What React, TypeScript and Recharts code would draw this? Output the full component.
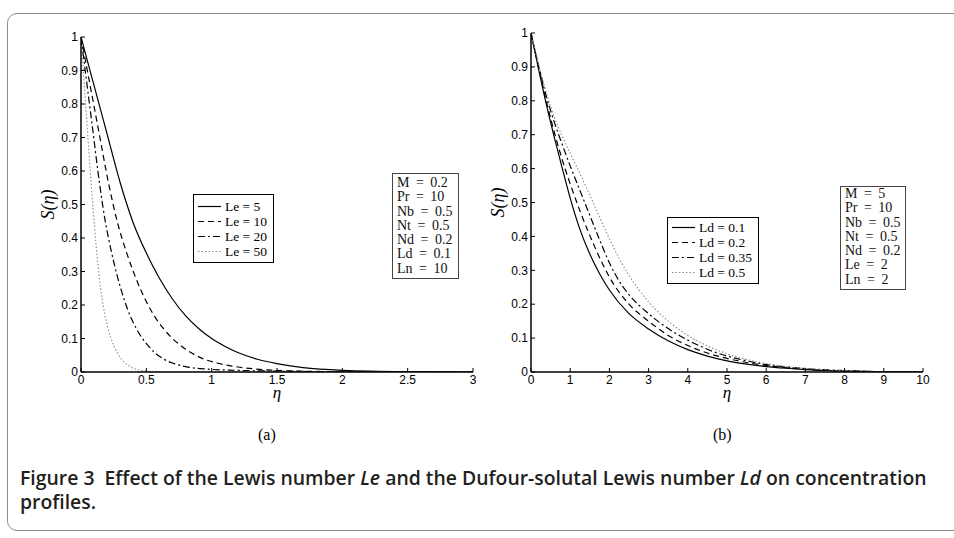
import React from 'react';
import { LineChart, Line, XAxis, YAxis, Legend } from 'recharts';

// ---------- Panel (a): Lewis number Le ----------
const leNames = ['Le = 5', 'Le = 10', 'Le = 20', 'Le = 50'];
const le5 = [[0, 1], [0.1, 0.855], [0.2, 0.71], [0.3, 0.565], [0.4, 0.445], [0.5, 0.355], [0.6, 0.28], [0.7, 0.218], [0.8, 0.168], [0.9, 0.13], [1.0, 0.1], [1.1, 0.077], [1.2, 0.058], [1.35, 0.038], [1.5, 0.025], [1.7, 0.013], [2.0, 0.005], [2.5, 0.001], [3, 0]];
const le10 = [[0, 1], [0.07, 0.855], [0.14, 0.71], [0.21, 0.565], [0.28, 0.445], [0.35, 0.355], [0.42, 0.28], [0.49, 0.218], [0.56, 0.168], [0.63, 0.13], [0.7, 0.1], [0.77, 0.077], [0.84, 0.058], [0.945, 0.038], [1.05, 0.026], [1.2, 0.015], [1.4, 0.007], [1.75, 0.002], [2.2, 0.0005], [3, 0]];
const le20 = [[0, 1], [0.047, 0.855], [0.094, 0.71], [0.141, 0.565], [0.188, 0.445], [0.235, 0.355], [0.282, 0.28], [0.329, 0.218], [0.376, 0.168], [0.423, 0.13], [0.47, 0.1], [0.517, 0.077], [0.564, 0.058], [0.635, 0.038], [0.705, 0.026], [0.8, 0.016], [0.95, 0.009], [1.2, 0.005], [1.6, 0.002], [2.2, 0.0005], [3, 0]];
const le50 = [[0, 1], [0.023, 0.87], [0.046, 0.74], [0.069, 0.61], [0.092, 0.49], [0.115, 0.38], [0.138, 0.29], [0.161, 0.22], [0.184, 0.168], [0.207, 0.13], [0.23, 0.1], [0.253, 0.077], [0.276, 0.058], [0.31, 0.038], [0.345, 0.025], [0.39, 0.013], [0.46, 0.005], [0.575, 0.001], [3, 0]];
const leParams = ['M = 0.2', 'Pr = 10', 'Nb = 0.5', 'Nt = 0.5', 'Nd = 0.2', 'Ld = 0.1', 'Ln = 10'];
const xTicksA = [0, 0.5, 1, 1.5, 2, 2.5, 3];

// ---------- Panel (b): Dufour-solutal Lewis number Ld ----------
const ldNames = ['Ld = 0.1', 'Ld = 0.2', 'Ld = 0.35', 'Ld = 0.5'];
const ld01 = [[0, 1], [0.2, 0.89], [0.4, 0.785], [0.6, 0.69], [0.8, 0.6], [1, 0.513], [1.25, 0.42], [1.5, 0.348], [1.75, 0.29], [2, 0.242], [2.5, 0.172], [3, 0.127], [3.5, 0.092], [4, 0.066], [4.5, 0.047], [5, 0.033], [5.5, 0.023], [6, 0.016], [6.5, 0.011], [7, 0.007], [8, 0.003], [9, 0.001], [10, 0]];
const ld02 = [[0, 1], [0.2, 0.895], [0.4, 0.795], [0.6, 0.705], [0.8, 0.625], [1, 0.555], [1.25, 0.475], [1.5, 0.403], [1.75, 0.337], [2, 0.28], [2.5, 0.2], [3, 0.15], [3.5, 0.108], [4, 0.078], [4.5, 0.056], [5, 0.04], [5.5, 0.028], [6, 0.019], [6.5, 0.013], [7, 0.008], [8, 0.003], [9, 0.001], [10, 0]];
const ld035 = [[0, 1], [0.2, 0.9], [0.4, 0.81], [0.6, 0.735], [0.8, 0.67], [1, 0.608], [1.25, 0.535], [1.5, 0.462], [1.75, 0.39], [2, 0.322], [2.25, 0.268], [2.5, 0.228], [3, 0.172], [3.5, 0.128], [4, 0.094], [4.5, 0.067], [5, 0.047], [5.5, 0.033], [6, 0.022], [6.5, 0.015], [7, 0.01], [8, 0.004], [9, 0.001], [10, 0]];
const ld05 = [[0, 1], [0.2, 0.905], [0.4, 0.82], [0.6, 0.75], [0.8, 0.695], [1, 0.645], [1.25, 0.585], [1.5, 0.522], [1.75, 0.457], [2, 0.393], [2.25, 0.335], [2.5, 0.285], [3, 0.207], [3.5, 0.15], [4, 0.108], [4.5, 0.077], [5, 0.054], [5.5, 0.037], [6, 0.025], [6.5, 0.016], [7, 0.011], [8, 0.004], [9, 0.001], [10, 0]];
const ldParams = ['M = 5', 'Pr = 10', 'Nb = 0.5', 'Nt = 0.5', 'Nd = 0.2', 'Le = 2', 'Ln = 2'];
const xTicksB = [0, 1, 2, 3, 4, 5, 6, 7, 8, 9, 10];

const yTicks = [0, 0.1, 0.2, 0.3, 0.4, 0.5, 0.6, 0.7, 0.8, 0.9, 1];

const lineStyles = [
  { stroke: '#000', dash: undefined as string | undefined, w: 1.2 },
  { stroke: '#000', dash: '6 4', w: 1.2 },
  { stroke: '#000', dash: '7 3 2 3', w: 1.2 },
  { stroke: '#8a8a8a', dash: '1.5 2', w: 1.1 },
];

const toPts = (a: number[][]) => a.map(([x, s]) => ({ x, s }));

const tickStyle = { fontFamily: '"Liberation Sans", Arial, sans-serif', fontSize: 12, fill: '#000' };
const serif = '"Liberation Serif", "Times New Roman", serif';

function LegendBox(props: any) {
  const { names, pad } = props;
  return (
    <div style={{ border: '1px solid #000', background: '#fff', padding: `${pad}px 6px 3px 4px`, fontFamily: serif, fontSize: 13.5, lineHeight: '15px', whiteSpace: 'nowrap', color: '#000' }}>
      {names.map((name: string, i: number) => {
        const st = lineStyles[i];
        return (
          <div key={name} style={{ display: 'flex', alignItems: 'center', height: 15 }}>
            <svg width={24} height={15} style={{ display: 'block' }}>
              <line x1={0} x2={23} y1={7.5} y2={7.5} stroke={st.stroke} strokeDasharray={st.dash} strokeWidth={st.w} />
            </svg>
            <span style={{ marginLeft: 3 }}>{name}</span>
          </div>
        );
      })}
    </div>
  );
}

function YLab(props: any) {
  const vb = props.viewBox || {};
  const cx = vb.x + vb.width - 33;
  const cy = vb.y + vb.height / 2;
  return (
    <text x={cx} y={cy} transform={`rotate(-90, ${cx}, ${cy})`} textAnchor="middle" dominantBaseline="central" fontFamily={serif} fontSize={18} fontStyle="italic" fill="#000">
      S(η)
    </text>
  );
}

function XLab(props: any) {
  const vb = props.viewBox || {};
  return (
    <text x={vb.x + vb.width / 2} y={vb.y + 26} textAnchor="middle" fontFamily={serif} fontSize={17} fontStyle="italic" fill="#000">
      η
    </text>
  );
}

type PanelProps = {
  left: number;
  marginLeft: number;
  marginRight: number;
  plotTop: number;
  xMax: number;
  xTicks: number[];
  names: string[];
  series: number[][][];
  legendLeft: number;
  legendTop: number;
  legendPad: number;
  params: string[];
  paramLeft: number;
  paramTop: number;
  paramW: number;
  paramH: number;
  paramPad: number;
};

function Panel(p: PanelProps) {
  const W = 480;
  const H = 410;
  return (
    <div style={{ position: 'absolute', left: p.left, top: 0, width: W, height: H }}>
      <LineChart width={W} height={H} data={[]} margin={{ top: p.plotTop, right: p.marginRight, bottom: 8, left: p.marginLeft }}>
        <XAxis xAxisId="b" dataKey="x" type="number" domain={[0, p.xMax]} ticks={p.xTicks} interval={0} allowDataOverflow
          height={30} tickSize={-4} tickMargin={7} tick={tickStyle} stroke="#000" axisLine={{ stroke: '#000', strokeWidth: 1.5 }} tickLine={{ stroke: '#000' }}
          label={{ content: <XLab /> } as any} />
        <XAxis xAxisId="t" orientation="top" dataKey="x" type="number" domain={[0, p.xMax]} ticks={p.xTicks} interval={0} allowDataOverflow
          height={0} tickSize={-4} tick={false} axisLine={{ stroke: '#000', strokeWidth: 1.5 }} tickLine={{ stroke: '#000' }} />
        <YAxis yAxisId="l" type="number" domain={[0, 1]} ticks={yTicks} interval={0} allowDataOverflow
          width={50} tickSize={-4} tickMargin={7} tick={tickStyle} axisLine={{ stroke: '#000', strokeWidth: 1.5 }} tickLine={{ stroke: '#000' }}
          label={{ content: <YLab /> } as any} />
        <YAxis yAxisId="r" orientation="right" type="number" domain={[0, 1]} ticks={yTicks} interval={0} allowDataOverflow
          width={0} tickSize={-4} tick={false} axisLine={{ stroke: '#000', strokeWidth: 1.5 }} tickLine={{ stroke: '#000' }} />
        {p.series.map((d, i) => (
          <Line key={p.names[i]} xAxisId="b" yAxisId="l" data={toPts(d)} dataKey="s" name={p.names[i]} type="monotone" dot={false} activeDot={false}
            stroke={lineStyles[i].stroke} strokeDasharray={lineStyles[i].dash} strokeWidth={lineStyles[i].w} isAnimationActive={false} />
        ))}
        <Legend layout="vertical" align="center" verticalAlign="middle"
          wrapperStyle={{ left: p.legendLeft, top: p.legendTop, width: 'auto', height: 'auto' }}
          content={() => <LegendBox names={p.names} pad={p.legendPad} />} />
      </LineChart>
      <div style={{ position: 'absolute', left: p.paramLeft, top: p.paramTop, width: p.paramW, height: p.paramH, boxSizing: 'border-box', border: '1px solid #444', background: '#fff', padding: `${p.paramPad}px 0 0 4px`, fontFamily: serif, fontSize: 14, lineHeight: '14.3px', wordSpacing: 3, whiteSpace: 'nowrap', color: '#111' }}>
        {p.params.map((t) => (
          <div key={t}>{t}</div>
        ))}
      </div>
    </div>
  );
}

export default function App() {
  return (
    <div style={{ position: 'absolute', left: 0, top: 0, width: 954, height: 538, background: '#fff', overflow: 'hidden' }}>
      <div style={{ position: 'absolute', left: 7, top: 13, width: 980, height: 518, border: '1.5px solid #8c8c8c', borderRadius: 10, boxSizing: 'border-box' }} />
      <Panel left={0} marginLeft={31} marginRight={7} plotTop={37} xMax={3} xTicks={xTicksA} names={leNames} series={[le5, le10, le20, le50]}
        legendLeft={193} legendTop={194} legendPad={4} params={leParams} paramLeft={392} paramTop={173} paramW={67} paramH={106} paramPad={2} />
      <Panel left={474} marginLeft={7} marginRight={31} plotTop={33} xMax={10} xTicks={xTicksB} names={ldNames} series={[ld01, ld02, ld035, ld05]}
        legendLeft={193} legendTop={217} legendPad={2} params={ldParams} paramLeft={366} paramTop={186} paramW={66} paramH={104} paramPad={0} />
      <div style={{ position: 'absolute', left: 258, top: 426, fontFamily: serif, fontSize: 16, color: '#000' }}>(a)</div>
      <div style={{ position: 'absolute', left: 713, top: 426, fontFamily: serif, fontSize: 16, color: '#000' }}>(b)</div>
      <div style={{ position: 'absolute', left: 20, top: 466, fontFamily: '"Open Sans", sans-serif', fontWeight: 600, fontSize: 19.4, lineHeight: '24px', color: '#231f20', whiteSpace: 'nowrap' }}>
        <div>Figure 3&nbsp;&nbsp;Effect of the Lewis number <i>Le</i> and the Dufour-solutal Lewis number <i>Ld</i> on concentration</div>
        <div>profiles.</div>
      </div>
    </div>
  );
}
